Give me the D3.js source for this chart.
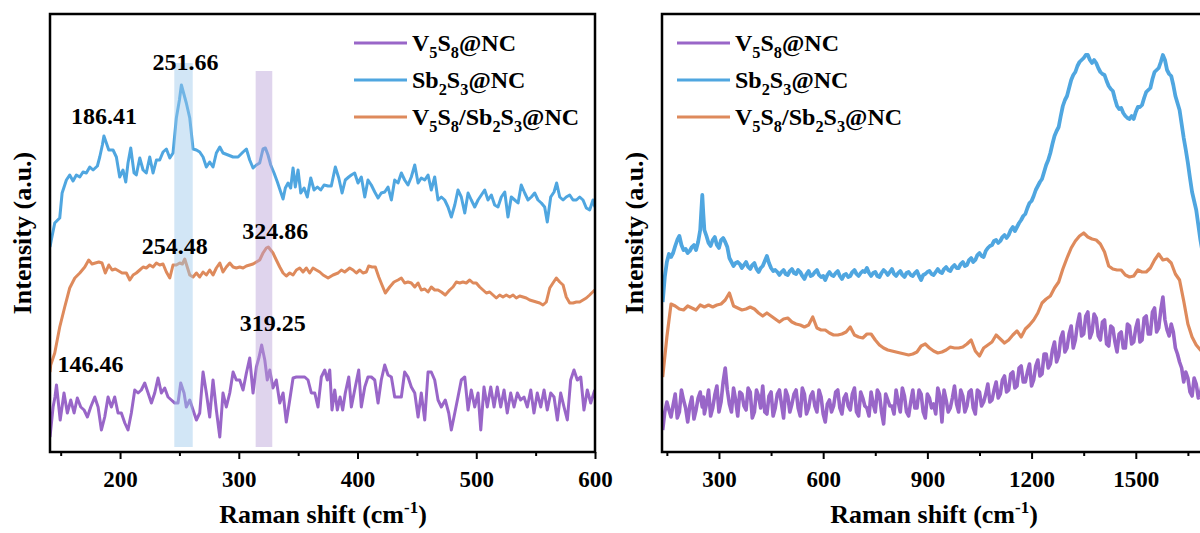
<!DOCTYPE html>
<html>
<head>
<meta charset="utf-8">
<script src="https://cdn.jsdelivr.net/npm/d3@7"></script>
<style>
  html, body { margin: 0; padding: 0; background: #fff; overflow: hidden; }
  svg { display: block; }
  text { font-family: "Liberation Serif", "Times New Roman", serif; font-weight: bold; fill: #000; }
</style>
</head>
<body>
<svg id="chart" width="1200" height="533"></svg>
<script>
// ---------- Low-wavenumber window (cm^-1, intensity a.u.) ----------
const sb2s3Low = [[141,205],[142.1,212],[145.0,229],[149.2,234],[151.2,259],[154.8,272],[157.6,277],[160.4,271],[163.2,277],[166.1,275],[168.8,280],[171.6,279],[174.5,285],[177.3,282],[180.9,286],[182.9,295],[185.1,307],[186.41,316],[190.5,302],[194.1,302],[196.9,295],[199.7,275],[202.5,282],[204.8,270],[206.7,289],[209.0,304],[211.8,279],[213.7,277],[216.6,294],[219.4,282],[222.1,279],[225.0,295],[227.8,279],[230.6,292],[233.4,292],[236.2,300],[239.0,303],[241.9,294],[244.6,299],[247.4,334],[250.0,352],[251.66,367],[255.8,349],[258.7,334],[261.5,303],[264.3,302],[267.1,300],[269.9,295],[272.7,285],[275.5,290],[278.3,285],[281.1,299],[284.0,305],[286.7,299],[291.0,297],[295.2,295],[299.4,295],[303.6,300],[306.4,303],[309.2,292],[312.0,284],[314.8,287],[317.6,289],[320.4,303],[322.4,304],[324.6,297],[326.9,287],[329.7,279],[332.5,270],[335.3,260],[337.3,253],[339.2,264],[341.5,269],[343.7,264],[345.7,284],[347.6,265],[349.9,282],[352.2,259],[355.0,264],[357.7,255],[360.6,274],[363.4,262],[366.2,265],[369.0,262],[371.8,267],[375.2,266],[377.9,266],[381.3,285],[384.2,274],[387.0,259],[389.7,272],[392.6,275],[394.8,277],[397.6,279],[400.4,269],[403.2,275],[406.1,255],[408.8,272],[411.6,267],[414.5,260],[417.3,254],[420.0,259],[422.9,260],[425.7,265],[428.5,252],[431.3,272],[434.1,269],[436.9,279],[439.7,272],[442.5,267],[445.3,275],[448.2,287],[451.0,269],[453.7,274],[456.6,272],[459.4,277],[462.1,262],[465.0,275],[467.8,252],[470.6,255],[473.4,252],[476.2,245],[479.0,235],[481.9,247],[484.6,262],[487.4,255],[490.3,239],[493.1,259],[495.8,252],[498.7,245],[501.5,252],[504.3,257],[507.1,262],[509.9,252],[512.7,257],[515.5,247],[518.3,245],[521.1,255],[524.0,260],[526.7,235],[529.5,255],[532.4,252],[535.2,249],[537.9,267],[540.8,259],[543.6,252],[546.4,255],[549.2,259],[552.0,252],[554.8,249],[557.6,245],[559.8,230],[562.7,255],[565.5,260],[567.7,269],[570.3,255],[573.1,252],[575.8,255],[578.7,257],[581.5,252],[584.3,252],[587.1,255],[589.9,252],[592.7,244],[595.5,242],[598.3,252],[600,245]];

const compositeLow = [[141,80],[141.6,87],[145.0,99],[149.2,125],[153.4,145],[157.6,164],[161.9,174],[166.1,179],[170.3,185],[173.6,192],[176.4,188],[179.2,189],[182.1,190],[184.8,189],[187.6,179],[190.5,187],[193.3,182],[196.0,183],[198.9,181],[201.7,179],[205.3,179],[208.2,172],[211.0,177],[213.7,179],[216.6,182],[219.4,185],[222.1,184],[225.0,187],[227.8,185],[230.6,189],[233.4,187],[236.2,188],[239.0,180],[241.9,174],[244.6,187],[247.4,187],[250.3,189],[252.5,188],[254.48,193],[258.7,177],[261.5,175],[264.3,179],[267.1,175],[269.9,180],[272.7,177],[275.5,182],[278.3,177],[281.1,184],[284.0,189],[286.7,180],[289.5,185],[292.4,189],[295.2,185],[297.9,184],[300.8,185],[303.6,184],[306.4,186],[309.2,187],[312.0,188],[314.8,190],[317.6,192],[320.4,199],[323.2,204],[324.86,205],[328.8,199],[331.6,192],[334.5,185],[337.3,179],[340.0,176],[342.9,179],[345.7,177],[348.5,182],[351.3,184],[354.1,180],[356.9,184],[359.7,179],[362.5,184],[365.3,182],[368.2,180],[371.0,177],[375.2,174],[379.4,177],[383.6,179],[386.4,182],[389.2,180],[393.4,184],[396.2,182],[399.0,179],[401.9,182],[404.6,179],[407.4,180],[409.4,186],[412.2,185],[415.0,185],[417.9,175],[420.6,167],[423.4,159],[427.1,165],[430.7,170],[434.1,172],[436.9,174],[439.7,169],[442.5,170],[445.3,169],[448.2,165],[451.0,169],[453.7,162],[456.6,163],[459.4,160],[462.1,165],[465.0,162],[467.8,162],[470.6,160],[473.9,157],[477.6,162],[480.4,165],[483.2,170],[486.1,169],[488.8,170],[491.6,169],[494.5,172],[497.3,169],[500.0,169],[502.9,165],[505.7,162],[508.5,159],[511.3,160],[514.1,157],[516.9,154],[519.7,157],[522.5,155],[525.3,157],[528.2,155],[531.0,157],[533.7,154],[536.6,156],[539.4,155],[542.1,154],[545.0,152],[547.8,151],[550.6,150],[553.4,149],[556.2,147],[559.0,150],[561.9,164],[564.6,169],[567.4,174],[570.3,170],[573.1,167],[575.8,155],[578.7,149],[581.5,149],[584.3,150],[587.1,150],[589.9,152],[592.7,154],[595.5,157],[599.8,162]];

const v5s8Low = [[141,15],[143.6,45],[145.2,55],[146.46,67],[149.6,32],[152.8,59],[155.6,39],[158.5,52],[161.3,39],[164.0,54],[166.9,45],[169.7,42],[172.5,35],[175.3,45],[178.7,55],[181.5,45],[184.3,22],[187.1,35],[189.9,55],[192.7,45],[195.5,55],[198.3,39],[201.1,39],[204.0,29],[206.7,22],[209.5,39],[212.4,62],[215.2,59],[217.9,62],[220.8,69],[223.6,59],[226.4,49],[229.2,59],[232.0,74],[234.8,59],[237.6,64],[240.4,55],[243.2,52],[246.1,49],[248.8,49],[251.1,69],[253.9,59],[255.8,45],[258.7,52],[261.5,42],[264.3,32],[267.1,39],[269.9,80],[272.7,59],[275.5,35],[278.3,72],[281.1,42],[284.0,15],[286.7,59],[289.5,45],[292.4,59],[295.2,80],[297.9,72],[300.8,72],[303.6,62],[306.4,79],[309.2,94],[312.0,59],[314.8,85],[317.1,95],[319.25,107],[321.9,92],[324.0,72],[326.1,82],[328.8,64],[331.6,72],[334.5,49],[337.3,59],[340.0,30],[342.9,52],[345.7,74],[348.5,75],[352.7,75],[355.5,75],[358.3,72],[361.1,59],[364.0,59],[366.7,45],[369.5,75],[372.4,82],[374.6,72],[376.6,82],[378.5,42],[380.8,62],[383.0,42],[385.3,55],[387.5,42],[389.7,59],[392.6,75],[394.8,45],[397.6,62],[401.0,82],[403.2,45],[406.1,65],[408.8,75],[411.6,75],[414.5,72],[417.3,49],[420.0,72],[422.9,87],[425.7,77],[428.5,75],[431.3,55],[434.1,55],[436.9,55],[439.7,80],[442.5,75],[445.3,65],[448.2,59],[451.0,35],[453.7,59],[456.6,32],[459.4,80],[462.1,80],[465.0,72],[467.8,52],[470.6,45],[473.9,52],[476.8,39],[479.0,22],[481.9,39],[484.6,55],[487.4,72],[490.3,75],[493.1,42],[495.8,62],[498.7,45],[501.5,59],[503.8,22],[506.5,65],[509.3,45],[512.2,65],[515.0,45],[517.7,65],[520.6,45],[523.4,62],[526.1,39],[529.0,59],[531.8,45],[534.6,59],[537.4,52],[540.2,55],[543.0,45],[545.9,62],[548.6,39],[551.4,59],[554.3,45],[557.1,62],[559.8,42],[562.7,59],[565.5,55],[568.3,32],[571.1,59],[573.9,45],[576.7,32],[579.5,72],[582.3,82],[585.1,72],[588.0,75],[590.7,42],[593.5,62],[596.4,49],[599.8,62]];

// ---------- Full-range scan: Raman shift grid (cm^-1) ----------
const shiftWide = [
  138,150,162,174,186,198,210,222,234,246,
  252,258,270,282,294,306,318,330,342,354,
  366,378,390,402,414,426,438,450,462,474,
  486,498,510,522,534,546,558,570,582,594,
  606,618,630,642,654,666,678,690,702,714,
  726,738,750,762,774,786,798,810,822,834,
  846,858,870,882,894,906,918,930,942,954,
  966,978,990,1002,1014,1026,1038,1050,1062,1074,
  1086,1098,1110,1122,1134,1146,1158,1170,1182,1194,
  1206,1218,1230,1242,1254,1266,1278,1290,1302,1314,
  1326,1338,1350,1362,1374,1386,1398,1410,1422,1434,
  1446,1458,1470,1482,1494,1506,1518,1530,1542,1554,
  1566,1578,1590,1602,1614,1626,1638,1650,1662,1674,
  1686,1698];

const sb2s3Wide = [
  150,190,195,206,216,202,199,205,202,222,
  257,222,209,212,207,212,210,194,186,190,
  184,190,183,189,180,186,196,184,182,177,
  182,177,183,178,180,173,181,177,182,175,
  172,180,176,181,173,178,176,182,176,181,
  184,176,180,175,182,177,183,176,181,175,
  180,176,181,172,178,181,177,183,179,185,
  181,187,184,190,187,194,192,199,195,204,
  207,212,211,217,217,225,225,232,238,249,
  256,266,273,287,299,316,325,346,356,372,
  380,390,394,397,389,389,380,377,366,361,
  346,344,336,333,333,345,347,360,364,380,
  384,397,382,376,356,342,314,289,260,242,
  212,190];

// readings between consecutive grid points of the noisier traces
const sb2s3WideMid = [
  175,198,199,212,207,203,201,207,210,240,
  238,216,206,215,204,214,205,190,189,188,
  187,185,187,183,184,191,189,181,180,180,
  178,181,179,182,176,178,176,180,177,176,
  177,177,179,176,177,175,180,178,179,180,
  179,179,176,179,180,180,178,179,177,179,
  177,179,176,177,180,178,180,180,183,182,
  185,184,188,186,192,190,197,196,201,206,
  211,209,215,214,222,221,229,236,244,251,
  262,270,280,292,308,321,336,352,364,377,
  386,392,397,392,392,384,378,371,363,353,
  343,339,334,336,340,345,354,362,373,382,
  390,392,378,367,349,328,302,274,251,227,
  200];

const compositeWide = [
  75,115,148,146,143,142,146,144,142,147,
  146,145,147,145,147,148,152,159,146,144,
  142,143,145,143,139,136,139,136,133,130,
  133,134,130,128,127,125,127,135,124,122,
  122,119,117,117,118,120,125,117,115,114,
  118,118,112,107,104,102,101,100,99,98,
  97,98,100,106,108,104,101,99,100,102,
  105,104,104,105,108,112,101,96,104,107,
  110,117,113,109,112,117,121,115,123,127,
  132,139,149,153,156,164,170,183,194,204,
  211,216,219,215,213,212,208,200,186,183,
  182,182,177,175,176,182,180,180,184,192,
  198,192,193,189,178,172,151,128,115,107,
  102,98];

const v5s8Wide = [
  22,50,35,58,40,52,30,55,42,60,
  45,38,62,44,66,50,84,48,64,36,
  58,42,60,40,56,66,38,60,44,62,
  34,56,48,62,36,58,44,60,40,55,
  30,52,46,62,38,58,42,64,36,54,
  44,60,40,58,28,52,46,62,40,56,
  36,62,44,58,34,54,48,64,30,52,
  44,66,40,56,46,62,38,60,50,68,
  52,70,58,76,62,80,66,86,70,88,
  72,92,78,98,88,110,96,120,104,126,
  112,138,118,140,120,134,112,132,106,124,
  100,120,104,126,110,132,112,136,118,144,
  124,155,122,128,104,90,70,74,56,68,
  58,66];

const v5s8WideMid = [
  40,42,47,34,62,44,46,33,54,51,
  55,48,36,57,40,70,62,40,52,60,
  46,64,34,62,44,40,56,36,58,48,
  62,40,58,44,64,38,56,46,62,38,
  48,40,60,44,54,46,58,40,60,46,
  36,48,62,40,58,46,38,50,64,40,
  50,44,62,40,58,44,38,56,62,40,
  54,48,62,40,60,44,62,46,58,50,
  62,54,72,60,78,64,84,70,80,66,
  86,76,98,84,102,90,114,100,118,104,
  128,116,136,114,138,116,130,108,126,110,
  118,104,128,108,124,110,134,118,140,120,
  142,132,116,120,98,84,80,60,74,54,
  70];

// ---------- Axis ticks ----------
const lowTicks = [200, 300, 400, 500, 600];
const lowMinorTicks = [150, 250, 350, 450, 550];
const wideTicks = [300, 600, 900, 1200, 1500];
const wideMinorTicks = [150, 450, 750, 1050, 1350, 1650];

// ---------- Series names and peak annotations ----------
const sampleNames = ["V5S8@NC", "Sb2S3@NC", "V5S8/Sb2S3@NC"];
const peakLabels = ["186.41", "251.66", "254.48", "324.86", "146.46", "319.25"];
const peakSample = [1, 1, 2, 2, 0, 0];
const highlightBands = [[245.7, 261.2], [314.2, 328.2]];
const highlightTop = [389, 381];

// ---------- Drawing ----------
const colors = ["#9966C8", "#4FA6E0", "#DE8A5C"];
const bandFill = ["#9CC7EB", "#B9A0D8"];

const svg = d3.select("#chart");
const plotTop = 14, plotBottom = 452;
const y = d3.scaleLinear().domain([0, 438]).range([plotBottom, plotTop]);

// merge grid readings with the in-between readings into one ordered trace
function trace(vals, mids) {
  const out = [];
  vals.forEach((v, i) => {
    out.push([shiftWide[i], v]);
    if (mids && i < vals.length - 1) out.push([(shiftWide[i] + shiftWide[i + 1]) / 2, mids[i]]);
  });
  return out;
}
const wideSeries = [trace(v5s8Wide, v5s8WideMid), trace(sb2s3Wide, sb2s3WideMid), trace(compositeWide)];

const panels = [
  { id: "low", left: 50, right: 595, domain: [141, 600], ticks: lowTicks, minor: lowMinorTicks,
    series: [v5s8Low, sb2s3Low, compositeLow], widths: [3, 3, 3], legendX: 354, titleX: 323, yTitleX: 31 },
  { id: "wide", left: 662, right: 1207, domain: [136, 1705], ticks: wideTicks, minor: wideMinorTicks,
    series: wideSeries, widths: [3.6, 3.8, 3.2], legendX: 677, titleX: 934, yTitleX: 643 }
];

// draws a chemical formula with digits as subscripts
function formula(sel, name, size) {
  const parts = name.split(/(\d)/).filter(s => s.length);
  let sub = false;
  parts.forEach(p => {
    const isDigit = /^\d$/.test(p);
    const t = sel.append("tspan").text(p);
    if (isDigit) {
      t.attr("font-size", size * 0.68).attr("dy", sub ? 0 : size * 0.28);
      sub = true;
    } else {
      t.attr("font-size", size).attr("dy", sub ? -size * 0.28 : 0);
      sub = false;
    }
  });
}

const lineFor = (x) => d3.line().x(d => x(d[0])).y(d => y(d[1]));

panels.forEach(p => {
  const x = d3.scaleLinear().domain(p.domain).range([p.left, p.right]);
  const g = svg.append("g");

  g.append("clipPath").attr("id", "clip-" + p.id)
    .append("rect").attr("x", p.left).attr("y", plotTop)
    .attr("width", p.right - p.left).attr("height", plotBottom - plotTop);

  const plot = g.append("g").attr("clip-path", `url(#clip-${p.id})`);

  // spectra
  p.series.forEach((s, i) => {
    plot.append("path").datum(s)
      .attr("d", lineFor(x))
      .attr("fill", "none")
      .attr("stroke", colors[i])
      .attr("stroke-width", p.widths[i])
      .attr("stroke-linejoin", "round");
  });

  if (p.id === "low") {
    // shaded peak regions lie over the traces
    highlightBands.forEach((b, i) => {
      plot.append("rect")
        .attr("x", x(b[0])).attr("width", x(b[1]) - x(b[0]))
        .attr("y", y(highlightTop[i])).attr("height", y(5) - y(highlightTop[i]))
        .attr("fill", bandFill[i]).attr("opacity", 0.45);
    });

    // peak position labels
    const offsets = {
      "186.41": [0, -12, "middle"], "251.66": [4, -15, "middle"],
      "254.48": [-10, -5, "middle"], "324.86": [7, -8, "middle"],
      "146.46": [1, -13, "start"], "319.25": [11, -14, "middle"]
    };
    peakLabels.forEach((lab, i) => {
      const s = p.series[peakSample[i]];
      const v = +lab;
      const pt = d3.least(s, d => Math.abs(d[0] - v));
      const o = offsets[lab];
      g.append("text")
        .attr("x", x(v) + o[0]).attr("y", y(pt[1]) + o[1])
        .attr("text-anchor", o[2]).attr("font-size", 24)
        .text(lab);
    });
  }

  // frame
  g.append("rect").attr("x", p.left).attr("y", plotTop)
    .attr("width", p.right - p.left).attr("height", plotBottom - plotTop)
    .attr("fill", "none").attr("stroke", "#000").attr("stroke-width", 2.5);

  // bottom axis: major and minor ticks
  const major = g.append("g").attr("transform", `translate(0,${plotBottom})`)
    .call(d3.axisBottom(x).tickValues(p.ticks).tickSize(7).tickSizeOuter(0).tickPadding(12).tickFormat(d3.format("d")));
  major.select(".domain").remove();
  major.selectAll("line").attr("stroke", "#000").attr("stroke-width", 2);
  major.selectAll("text").attr("font-size", 23).attr("font-family", null).attr("fill", "#000");

  const minor = g.append("g").attr("transform", `translate(0,${plotBottom})`)
    .call(d3.axisBottom(x).tickValues(p.minor).tickSize(4).tickSizeOuter(0).tickFormat(""));
  minor.select(".domain").remove();
  minor.selectAll("line").attr("stroke", "#000").attr("stroke-width", 2);

  // axis titles
  const xt = g.append("text").attr("x", p.titleX).attr("y", 523)
    .attr("text-anchor", "middle").attr("font-size", 26);
  xt.append("tspan").text("Raman shift (cm");
  xt.append("tspan").text("-1").attr("font-size", 17).attr("dy", -10);
  xt.append("tspan").text(")").attr("dy", 10);

  g.append("text")
    .attr("transform", `translate(${p.yTitleX},${(plotTop + plotBottom) / 2}) rotate(-90)`)
    .attr("text-anchor", "middle").attr("font-size", 26)
    .text("Intensity (a.u.)");

  // legend
  sampleNames.forEach((name, i) => {
    const ly = 43 + i * 37;
    g.append("line")
      .attr("x1", p.legendX).attr("x2", p.legendX + 53)
      .attr("y1", ly).attr("y2", ly)
      .attr("stroke", colors[i]).attr("stroke-width", 3);
    const t = g.append("text").attr("x", p.legendX + 58).attr("y", ly + 8);
    formula(t, name, 24);
  });
});
</script>
</body>
</html>
